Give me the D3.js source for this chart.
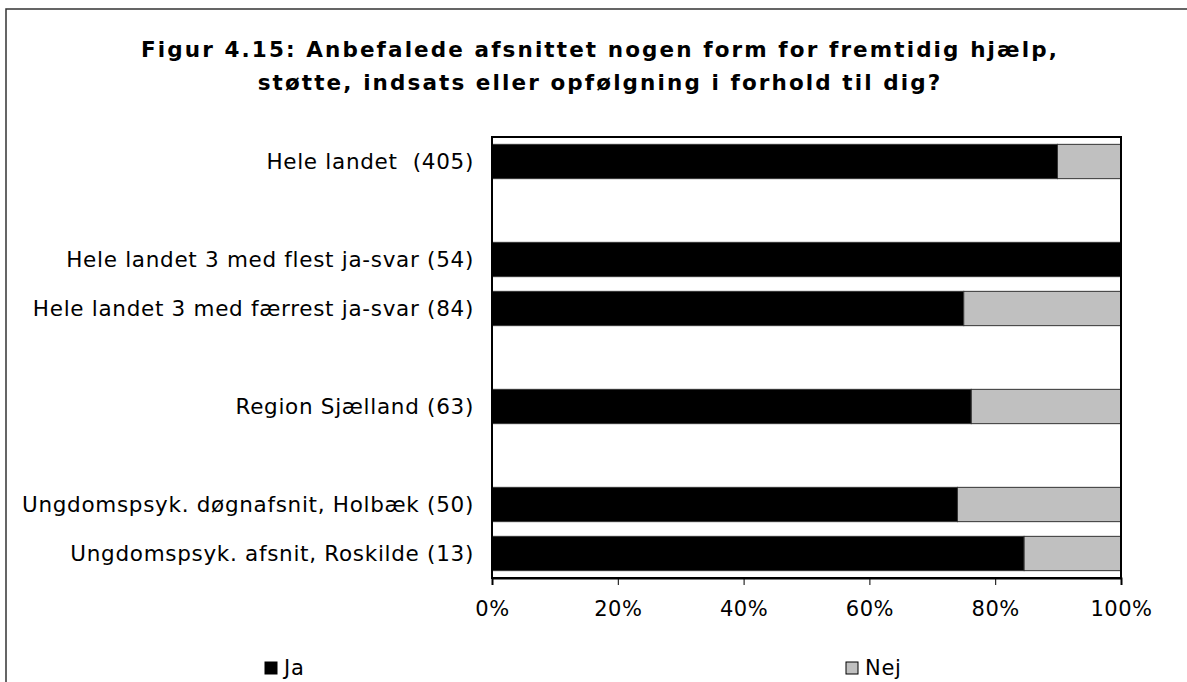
<!DOCTYPE html>
<html><head><meta charset="utf-8">
<script src="https://cdn.jsdelivr.net/npm/d3@7"></script>
<style>html,body{margin:0;padding:0;background:#fff;}svg{display:block;}</style>
</head><body>
<svg id="c" width="1187" height="682"></svg>
<script>
const categories = [
  "Hele landet  (405)",
  "",
  "Hele landet 3 med flest ja-svar (54)",
  "Hele landet 3 med færrest ja-svar (84)",
  " ",
  "Region Sjælland (63)",
  "  ",
  "Ungdomspsyk. døgnafsnit, Holbæk (50)",
  "Ungdomspsyk. afsnit, Roskilde (13)"
];
const jaValues  = [0.899, null, 1.000, 0.750, null, 0.762, null, 0.740, 0.846];
const nejValues = [0.101, null, 0.000, 0.250, null, 0.238, null, 0.260, 0.154];
const seriesNames = ["Ja", "Nej"];
const tickValues = [0, 0.2, 0.4, 0.6, 0.8, 1.0];
const titleLines = [
  "Figur 4.15: Anbefalede afsnittet nogen form for fremtidig hjælp,",
  "støtte, indsats eller opfølgning i forhold til dig?"
];

const svg = d3.select("#c");
const FONT = "DejaVu Sans, Verdana, sans-serif";
const colors = {Ja: "#000000", Nej: "#c0c0c0"};
const plot = {left: 492, right: 1121, top: 137, bottom: 578};

// outer frame
svg.append("rect").attr("x", 6).attr("y", 9).attr("width", 1200).attr("height", 700)
  .attr("fill", "#fff").attr("stroke", "#333").attr("stroke-width", 1.5);

// title
svg.append("g").selectAll("text").data(titleLines).join("text")
  .attr("x", 600).attr("y", (d, i) => 57 + i * 33)
  .attr("text-anchor", "middle")
  .attr("font-family", FONT)
  .attr("font-weight", "bold").attr("font-size", 21.5)
  .attr("letter-spacing", 2.1)
  .text(d => d);

const x = d3.scaleLinear().domain([0, 1]).range([plot.left, plot.right]);
const y = d3.scaleBand().domain(categories).range([plot.top, plot.bottom]).paddingInner(0.3).paddingOuter(0.15);

const stackData = categories.map((c, i) => ({cat: c, Ja: jaValues[i], Nej: nejValues[i]}))
  .filter(d => d.Ja !== null);
const stacked = d3.stack().keys(seriesNames)(stackData);

svg.append("g").selectAll("g").data(stacked).join("g")
  .attr("fill", d => colors[d.key])
  .selectAll("rect").data(d => d.filter(s => s[1] - s[0] > 0)).join("rect")
  .attr("x", d => x(d[0]))
  .attr("width", d => x(d[1]) - x(d[0]))
  .attr("y", d => y(d.data.cat))
  .attr("height", y.bandwidth())
  .attr("stroke", "#333").attr("stroke-width", 1);

// plot border
svg.append("rect").attr("x", plot.left).attr("y", plot.top)
  .attr("width", plot.right - plot.left).attr("height", plot.bottom - plot.top)
  .attr("fill", "none").attr("stroke", "#000").attr("stroke-width", 2);

// x axis
const xAxis = svg.append("g").attr("transform", `translate(0,${plot.bottom})`)
  .call(d3.axisBottom(x).tickValues(tickValues).tickFormat(d3.format(".0%")).tickSize(7).tickPadding(16));
xAxis.select(".domain").attr("stroke", "#000").attr("stroke-width", 2);
xAxis.selectAll(".tick line").attr("stroke", "#000").attr("stroke-width", 1);
xAxis.selectAll(".tick text").attr("font-family", FONT)
  .attr("font-size", 21).attr("letter-spacing", 0.5).attr("fill", "#000");

// category labels
svg.append("g").selectAll("text").data(categories.filter(c => c.trim() !== "")).join("text")
  .attr("x", plot.left - 18)
  .attr("y", d => y(d) + y.bandwidth() / 2)
  .attr("dy", "0.35em")
  .attr("text-anchor", "end")
  .attr("font-family", FONT)
  .attr("font-size", 21.5)
  .attr("letter-spacing", 0.7)
  .style("white-space", "pre")
  .text(d => d);

// legend
const legendX = [265, 846];
const lg = svg.append("g").selectAll("g").data(seriesNames).join("g")
  .attr("transform", (d, i) => `translate(${legendX[i]},662)`);
lg.append("rect").attr("width", 12).attr("height", 12)
  .attr("fill", d => colors[d]).attr("stroke", "#000").attr("stroke-width", 1);
lg.append("text").attr("x", 19).attr("y", 6).attr("dy", "0.35em")
  .attr("font-family", FONT).attr("font-size", 21).attr("letter-spacing", 0.7)
  .text(d => d);
</script>
</body></html>
